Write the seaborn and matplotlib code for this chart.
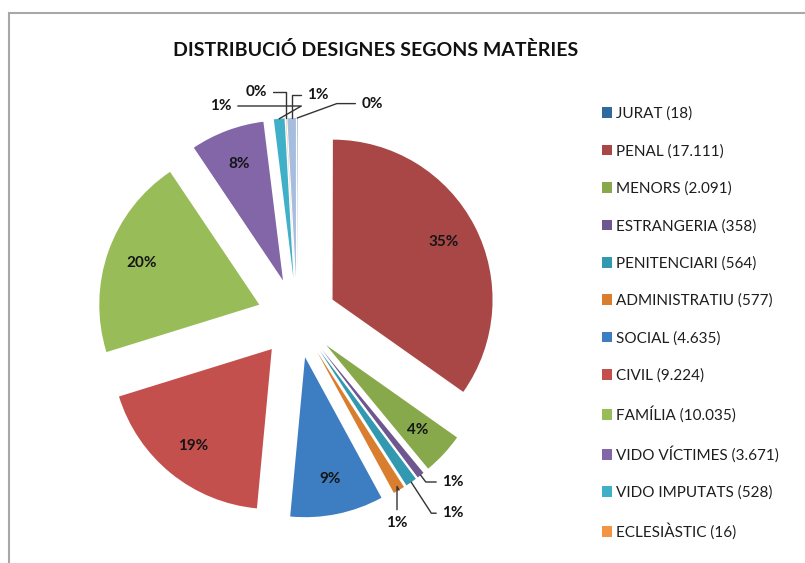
import numpy as np
import seaborn as sns
import matplotlib.pyplot as plt
from matplotlib.patches import Rectangle

# Data (slice order = clockwise from 12 o'clock)
categories = [
    "JURAT (18)", "PENAL (17.111)", "MENORS (2.091)", "ESTRANGERIA (358)",
    "PENITENCIARI (564)", "ADMINISTRATIU (577)", "SOCIAL (4.635)",
    "CIVIL (9.224)", "FAMÍLIA (10.035)", "VIDO VÍCTIMES (3.671)",
    "VIDO IMPUTATS (528)", "ECLESIÀSTIC (16)",
]
counts = [18, 17111, 2091, 358, 564, 577, 4635, 9224, 10035, 3671, 528, 16]
# 13th slice drawn in the pie but cut off from the legend (~1%)
extra_count = 420
pct_labels = ["0%", "35%", "4%", "1%", "1%", "1%", "9%", "19%", "20%", "8%",
              "1%", "0%", "1%"]

colors = sns.color_palette([
    "#2F6A9E", "#A94746", "#87A94B", "#6E5690", "#3299B0", "#D97E2E",
    "#3D7DC2", "#C4504E", "#98BC58", "#8266A8", "#3FB0C7", "#F39444",
    "#A7BDDE",
])

# outside labels for thin slices: index -> (x, y, angleA, angleB)
outside = {
    0: (0.47, 1.34, 0, 20),
    3: (0.975, -1.025, 0, -53),
    4: (0.975, -1.22, 0, -57),
    5: (0.625, -1.28, 90, -61),
    10: (-0.475, 1.325, 0, 30),
    11: (-0.256, 1.41, 0, 90),
    12: (0.131, 1.395, 0, 90),
}

sns.set_theme(style="white")
plt.rcParams["font.family"] = ["Lato", "DejaVu Sans"]

fig = plt.figure(figsize=(8.05, 5.63), dpi=100)
fig.patch.set_facecolor("white")

# pie axes: centre (297, 318) px, radius 160 px
ax = fig.add_axes([57 / 805, 5 / 563, 480 / 805, 480 / 563])
values = counts + [extra_count]
wedges, _ = ax.pie(
    values,
    colors=colors,
    startangle=90,
    counterclock=False,
    explode=[0.25] * len(values),
    wedgeprops=dict(linewidth=0),
)
ax.set_xlim(-1.5, 1.5)
ax.set_ylim(-1.5, 1.5)
ax.axis("off")

for i, w in enumerate(wedges):
    theta = np.deg2rad((w.theta1 + w.theta2) / 2)
    cx, cy = w.center
    if i in outside:
        tx, ty, a_a, a_b = outside[i]
        ax.annotate(
            pct_labels[i],
            xy=(cx + np.cos(theta), cy + np.sin(theta)),
            xytext=(tx, ty),
            ha="center", va="center",
            fontsize=11, fontweight="bold", color="#151515",
            arrowprops=dict(
                arrowstyle="-", color="#333333", lw=1,
                shrinkA=2, shrinkB=0,
                connectionstyle=f"angle,angleA={a_a},angleB={a_b},rad=0",
            ),
            annotation_clip=False,
        )
    else:
        ax.text(
            cx + 0.78 * np.cos(theta), cy + 0.78 * np.sin(theta),
            pct_labels[i], ha="center", va="center",
            fontsize=11, fontweight="bold", color="#151515",
        )

fig.text(376 / 805, 1 - 50 / 563, "DISTRIBUCIÓ DESIGNES SEGONS MATÈRIES",
         ha="center", va="center", fontsize=14, fontweight="bold",
         color="#111111")

fig.legend(
    wedges[:len(categories)], categories,
    loc="upper left", bbox_to_anchor=(594 / 805, 1 - 99 / 563),
    frameon=False, fontsize=11, handlelength=0.7, handleheight=0.7,
    handletextpad=0.25, labelspacing=1.51, borderpad=0, labelcolor="#1e1e1e",
)

# chart-area border (only top/left visible in the scan)
fig.add_artist(Rectangle((9 / 805, -0.02), 1.0, 1 - 13 / 563 + 0.02,
                         transform=fig.transFigure, fill=False,
                         edgecolor="#A8A8A8", lw=1.5))

fig.savefig("out.png", dpi=100)
